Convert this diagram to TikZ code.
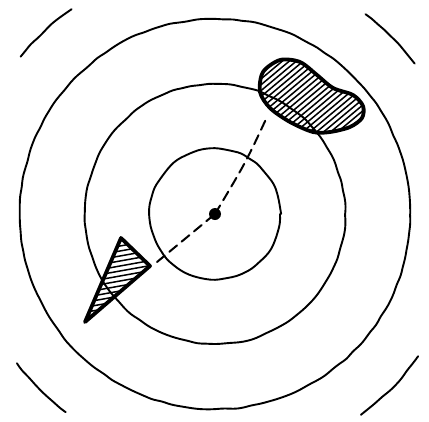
\documentclass[tikz,border=0pt]{standalone}
\usetikzlibrary{decorations.pathmorphing}

\begin{document}
\begin{tikzpicture}[x=1pt, y=-1pt, line cap=round, line join=round,
  ring/.style={line width=1.9pt, decorate, decoration={random steps, segment length=9pt, amplitude=0.7pt}, rounded corners=4pt},
  outline/.style={line width=3.8pt},
  hatch/.style={line width=1.5pt},
  trail/.style={line width=2pt, dash pattern=on 10pt off 6pt}]
\pgfmathsetseed{7}
\useasboundingbox (0,0) rectangle (429,421);
\coordinate (centre) at (215,214);
\coordinate (tri) at (157,262);
\coordinate (bean) at (267,117);
% rings
\draw[ring] (centre) circle[radius=65];
\draw[ring] (centre) circle[radius=130];
\draw[ring] (centre) circle[radius=195];
\draw[ring] (centre) ++(-125:250) arc[start angle=-125, end angle=-141, radius=250];
\draw[ring] (centre) ++(-37:250) arc[start angle=-37, end angle=-53, radius=250];
\draw[ring] (centre) ++(-217:248) arc[start angle=-217, end angle=-233, radius=248];
\draw[ring] (centre) ++(35:248) arc[start angle=35, end angle=54, radius=248];
% path through the centre
\draw[trail] (tri) -- (centre);
\draw[trail] (centre) .. controls (246,162) .. (bean);
\fill (centre) circle[radius=6];
% bean-shaped patch
\begin{scope}
\clip plot[smooth cycle] coordinates {(263,72) (280,60) (300,62) (317,75) (333,88) (353,95) (363,106) (362,118) (350,127) (330,132) (313,132) (290,122) (270,108) (260,92)};
\foreach \d in {-140,-133,...,140}
  \draw[hatch] (310+\d,97) ++(-70,58) -- ++(140,-117);
\end{scope}
\draw[outline] plot[smooth cycle] coordinates {(263,72) (280,60) (300,62) (317,75) (333,88) (353,95) (363,106) (362,118) (350,127) (330,132) (313,132) (290,122) (270,108) (260,92)};
% triangle
\begin{scope}
\clip (121,238) -- (150,266) -- (85,322) -- cycle;
\foreach \d in {230,235,...,335}
  \draw[hatch] (70,\d+10) -- (170,\d-8);
\end{scope}
\draw[outline] (121,238) -- (150,266) -- (85,322) -- cycle;
\end{tikzpicture}
\end{document}
